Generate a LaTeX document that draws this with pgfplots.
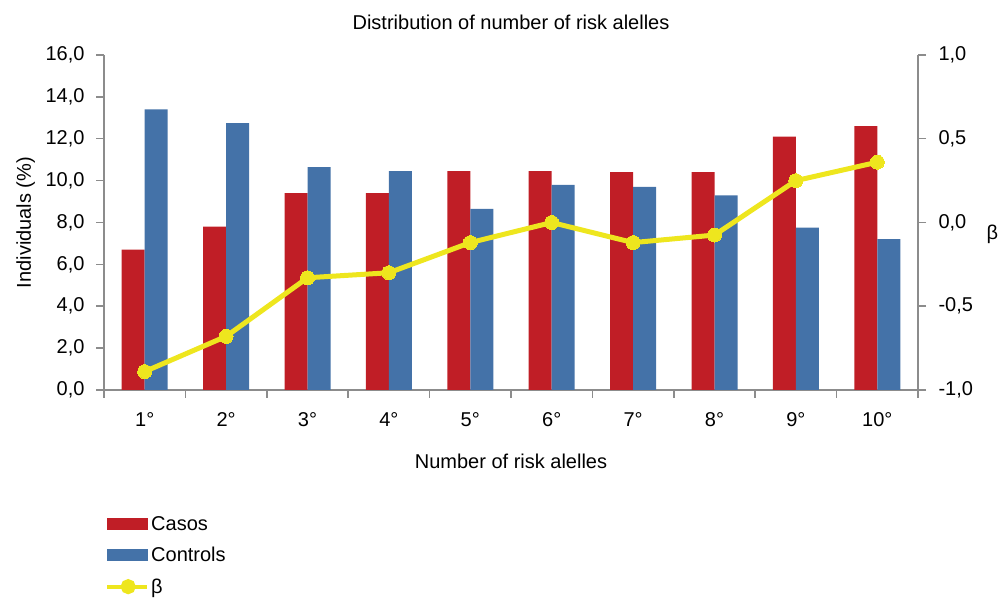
\documentclass[border=0pt]{standalone}
\usepackage{fontspec}
\setmainfont{Liberation Sans}
\usepackage{pgfplots}
\usepackage{pgfplotstable}
\pgfplotsset{compat=1.18}
\definecolor{redbar}{RGB}{192,30,38}
\definecolor{bluebar}{RGB}{68,114,168}
\definecolor{betacol}{RGB}{238,230,30}
\definecolor{axisgray}{RGB}{140,140,140}

\pgfplotstableread{
cat casos controls beta
1 6.7 13.4 -0.89
2 7.8 12.75 -0.68
3 9.4 10.65 -0.33
4 9.4 10.45 -0.30
5 10.45 8.65 -0.12
6 10.45 9.8 0.0
7 10.4 9.7 -0.12
8 10.4 9.3 -0.075
9 12.1 7.75 0.25
10 12.6 7.2 0.36
}\alleles

\newcommand{\bigfont}{\fontsize{20}{24}\selectfont}

\pgfplotsset{
  common/.style={
    scale only axis, width=814pt, height=335pt,
    xmin=0.5, xmax=10.5,
    axis line style={-, axisgray, line width=1.5pt},
    tick align=outside, major tick length=8pt, minor tick length=8pt,
    tick style={axisgray, line width=1.5pt},
    tick label style={font=\bigfont},
    label style={font=\bigfont},
    /pgf/number format/assume math mode=true,
    y tick label style={/pgf/number format/fixed, /pgf/number format/fixed zerofill,
      /pgf/number format/precision=1, /pgf/number format/use comma},
  }
}

\begin{document}
\begin{tikzpicture}
\begin{axis}[
  common,
  axis x line*=bottom, axis y line*=left,
  ymin=0, ymax=16, ytick={0,2,...,16},
  xtick={1,...,10},
  xticklabels={1°,2°,3°,4°,5°,6°,7°,8°,9°,10°},
  x tick label style={yshift=-11pt},
  y tick label style={xshift=-8pt},
  major x tick style={draw=none},
  minor xtick={0.5,1.5,...,10.5},
  ybar=0pt, bar width=23pt,
  ylabel={Individuals (\%)},
  ylabel style={font=\bigfont, at={(axis description cs:-0.0897,0.5)}, anchor=base},
  xlabel={Number of risk alelles},
  xlabel style={font=\bigfont, at={(axis description cs:0.5,0)}, anchor=base, yshift=-79pt},
  title={Distribution of number of risk alelles},
  title style={font=\bigfont, at={(axis description cs:0.5,1)}, anchor=base, yshift=19pt},
]
\addplot[fill=redbar, draw=none] table[x=cat, y=casos] {\alleles};
\addplot[fill=bluebar, draw=none] table[x=cat, y=controls] {\alleles};
\end{axis}

\begin{axis}[
  common,
  axis x line=none, axis y line*=right,
  ymin=-1, ymax=1, ytick={-1,-0.5,...,1},
  y tick label style={xshift=9pt},
  ylabel={β},
  ylabel style={font=\bigfont, rotate=-90, at={(axis description cs:1.0915,0.4507)}, anchor=base},
  legend style={at={(axis description cs:0,0)}, anchor=north west, xshift=-2pt, yshift=-122pt,
    draw=none, fill=none, font=\bigfont, row sep=11.5pt, cells={anchor=west}},
]
\addlegendimage{legend image code/.code={\fill[redbar] (0pt,-5.5pt) rectangle (40pt,5.5pt);}}
\addlegendentry{Casos}
\addlegendimage{legend image code/.code={\fill[bluebar] (0pt,-5.5pt) rectangle (40pt,5.5pt);}}
\addlegendentry{Controls}
\addplot[betacol, line width=5pt, mark=*, mark size=7pt, mark options={fill=betacol, draw=betacol, line width=0pt},
  legend image code/.code={\draw[betacol, line width=4pt] (0pt,0pt) -- (40pt,0pt); \fill[betacol] (21pt,0pt) circle (5pt);}]
  table[x=cat, y=beta] {\alleles};
\addlegendentry{β}
\coordinate (bl) at (rel axis cs:0,0);
\coordinate (tr) at (rel axis cs:1,1);
\end{axis}
\pgfresetboundingbox
\path ([shift={(-104pt,-208pt)}]bl) rectangle ([shift={(88pt,55pt)}]tr);
\end{tikzpicture}
\end{document}
